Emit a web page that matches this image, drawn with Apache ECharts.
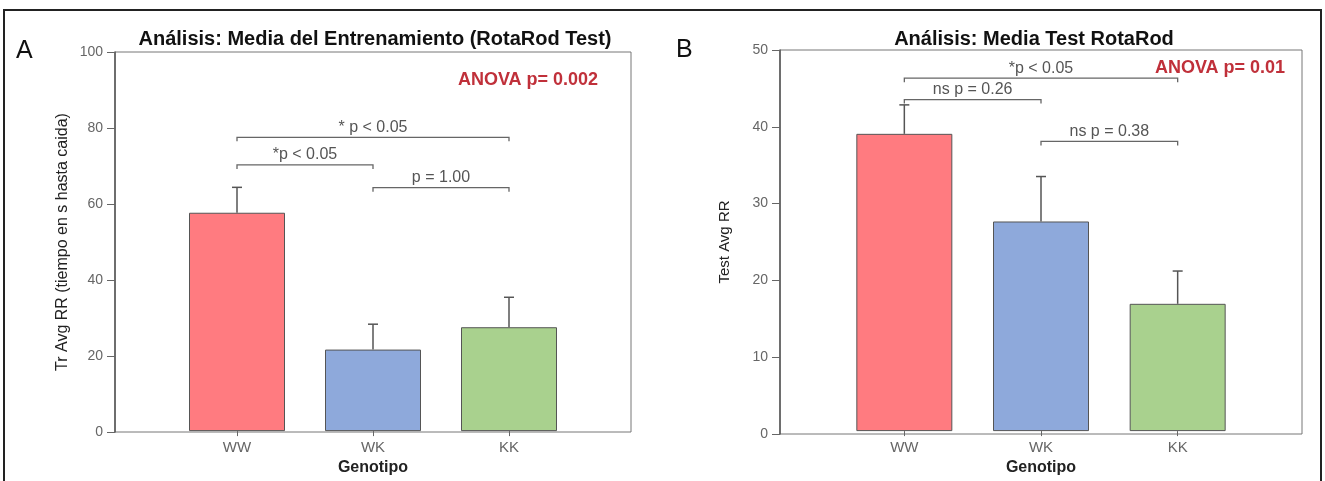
<!DOCTYPE html>
<html>
<head>
<meta charset="utf-8">
<script src="https://cdn.jsdelivr.net/npm/echarts@6/dist/echarts.min.js"></script>
<style>
html,body{margin:0;padding:0;background:#fff;}
#chart{width:1325px;height:481px;}
</style>
</head>
<body>
<div id="chart"></div>
<script>
// ---- data ----
const categories = ['WW', 'WK', 'KK'];
const barColors = ['#FF7B80', '#8EA9DB', '#A9D18E'];

// Panel A: training
const trainMean  = [57.6, 21.5, 27.4];
const trainUpper = [64.3, 28.2, 35.3];
const trainMax = 100, trainStep = 20;
const trainBracketFrom = [0, 0, 1];
const trainBracketTo   = [2, 1, 2];
const trainBracketY    = [77.5, 70.2, 64.2];
const trainBracketText = ['* p < 0.05', '*p < 0.05', 'p = 1.00'];

// Panel B: test
const testMean  = [39.0, 27.5, 16.7];
const testUpper = [42.8, 33.4, 21.0];
const testMax = 50, testStep = 10;
const testBracketFrom = [0, 0, 1];
const testBracketTo   = [2, 1, 2];
const testBracketY    = [46.3, 43.5, 38.0];
const testBracketText = ['*p < 0.05', 'ns p = 0.26', 'ns p = 0.38'];

const FONT = 'Liberation Sans, Arial, sans-serif';

function errorItem(params, api) {
  const x = api.value(0);
  const lo = api.coord([x, api.value(1)]);
  const hi = api.coord([x, api.value(2)]);
  const st = { stroke: '#555', lineWidth: 1.5 };
  return {
    type: 'group',
    children: [
      { type: 'line', shape: { x1: lo[0], y1: lo[1], x2: hi[0], y2: hi[1] }, style: st },
      { type: 'line', shape: { x1: hi[0] - 5, y1: hi[1], x2: hi[0] + 5, y2: hi[1] }, style: st }
    ]
  };
}

function bracketRenderer(texts) {
  return function (params, api) {
    const y = api.value(2);
    const a = api.coord([api.value(0), y]);
    const b = api.coord([api.value(1), y]);
    return {
      type: 'group',
      children: [
        { type: 'polyline',
          shape: { points: [[a[0], a[1] + 4], [a[0], a[1]], [b[0], b[1]], [b[0], b[1] + 4]] },
          style: { stroke: '#666', lineWidth: 1.3, fill: null } },
        { type: 'text', x: (a[0] + b[0]) / 2, y: a[1] - 2,
          style: { text: texts[params.dataIndex], fontSize: 16, fontFamily: FONT,
                   fill: '#555', align: 'center', verticalAlign: 'bottom' } }
      ]
    };
  };
}

function barData(vals) {
  return vals.map((v, i) => ({ value: v, itemStyle: { color: barColors[i] } }));
}

function frameY(max, step, name, gap, gridIndex) {
  return {
    type: 'value', gridIndex: gridIndex, min: 0, max: max, interval: step,
    name: name, nameLocation: 'middle', nameGap: gap, nameRotate: 90,
    nameTextStyle: { fontSize: gridIndex === 0 ? 16 : 15, color: '#222', fontFamily: FONT },
    axisLine: { show: true, lineStyle: { color: '#555', width: 1.5 } },
    axisTick: { show: true, length: 8, lineStyle: { color: '#666' } },
    axisLabel: { fontSize: 14, color: '#666', margin: 12, fontFamily: FONT },
    splitLine: { show: false }
  };
}
function hiddenY(max, gridIndex) {
  return { type: 'value', gridIndex: gridIndex, min: 0, max: max, show: false, splitLine: { show: false } };
}
function catX(gridIndex) {
  return {
    type: 'category', gridIndex: gridIndex, data: categories,
    name: 'Genotipo', nameLocation: 'middle', nameGap: 27,
    nameTextStyle: { fontSize: 16, fontWeight: 'bold', color: '#222', fontFamily: FONT },
    axisLine: { show: false },
    axisTick: { show: true, alignWithLabel: true, length: 5, lineStyle: { color: '#666' } },
    axisLabel: { fontSize: 15, color: '#666', margin: 9, fontFamily: FONT }
  };
}

const chart = echarts.init(document.getElementById('chart'));
chart.setOption({
  animation: false,
  backgroundColor: '#fff',
  title: [
    { text: 'Análisis: Media del Entrenamiento (RotaRod Test)', left: 370, top: 24, textAlign: 'center',
      textStyle: { fontSize: 20, fontWeight: 'bold', color: '#111', fontFamily: FONT } },
    { text: 'Análisis: Media Test RotaRod', left: 1029, top: 24, textAlign: 'center',
      textStyle: { fontSize: 20, fontWeight: 'bold', color: '#111', fontFamily: FONT } },
    { text: 'A', left: 11, top: 34, textStyle: { fontSize: 25, fontWeight: 'normal', color: '#111', fontFamily: FONT } },
    { text: 'B', left: 671, top: 33, textStyle: { fontSize: 25, fontWeight: 'normal', color: '#111', fontFamily: FONT } },
    { text: 'ANOVA p= 0.002', left: 523, top: 66, textAlign: 'center',
      textStyle: { fontSize: 18, fontWeight: 'bold', color: '#C0303A', fontFamily: FONT } },
    { text: 'ANOVA p= 0.01', left: 1215, top: 54, textAlign: 'center',
      textStyle: { fontSize: 18, fontWeight: 'bold', color: '#C0303A', fontFamily: FONT } }
  ],
  graphic: [
    { type: 'polyline', shape: { points: [[4, 481], [4, 10], [1321, 10], [1321, 481]] },
      style: { stroke: '#222', lineWidth: 2, fill: null }, silent: true }
  ],
  grid: [
    { left: 115, right: 694, top: 52, bottom: 49, show: true, borderColor: '#777', borderWidth: 1 },
    { left: 169, right: 748, top: 52, bottom: 49 },
    { left: 780, right: 23, top: 50, bottom: 47, show: true, borderColor: '#777', borderWidth: 1 },
    { left: 836, right: 79, top: 50, bottom: 47 }
  ],
  xAxis: [
    { type: 'value', gridIndex: 0, min: 0, max: 1, show: false },
    catX(1),
    { type: 'value', gridIndex: 2, min: 0, max: 1, show: false },
    catX(3)
  ],
  yAxis: [
    frameY(trainMax, trainStep, 'Tr Avg RR (tiempo en s hasta caida)', 44, 0),
    hiddenY(trainMax, 1),
    frameY(testMax, testStep, 'Test Avg RR', 48, 2),
    hiddenY(testMax, 3)
  ],
  series: [
    { type: 'bar', xAxisIndex: 1, yAxisIndex: 1, barWidth: 96, data: barData(trainMean),
      itemStyle: { borderColor: '#555', borderWidth: 1 } },
    { type: 'custom', xAxisIndex: 1, yAxisIndex: 1, renderItem: errorItem,
      data: categories.map((c, i) => [i, trainMean[i], trainUpper[i]]) },
    { type: 'custom', xAxisIndex: 1, yAxisIndex: 1, renderItem: bracketRenderer(trainBracketText),
      data: trainBracketY.map((y, i) => [trainBracketFrom[i], trainBracketTo[i], y]) },
    { type: 'bar', xAxisIndex: 3, yAxisIndex: 3, barWidth: 96, data: barData(testMean),
      itemStyle: { borderColor: '#555', borderWidth: 1 } },
    { type: 'custom', xAxisIndex: 3, yAxisIndex: 3, renderItem: errorItem,
      data: categories.map((c, i) => [i, testMean[i], testUpper[i]]) },
    { type: 'custom', xAxisIndex: 3, yAxisIndex: 3, renderItem: bracketRenderer(testBracketText),
      data: testBracketY.map((y, i) => [testBracketFrom[i], testBracketTo[i], y]) }
  ]
});
</script>
</body>
</html>
